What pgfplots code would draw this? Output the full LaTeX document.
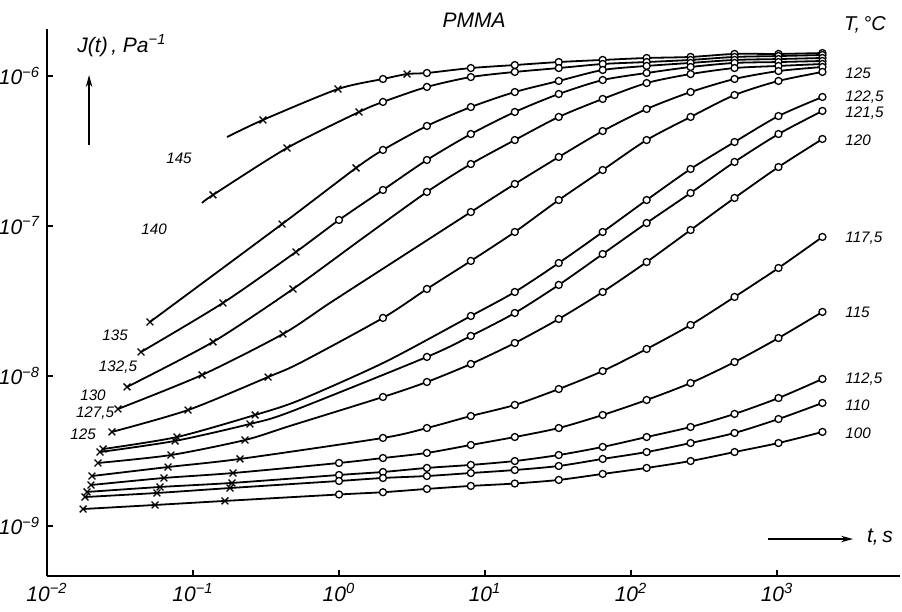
\documentclass[border=0pt]{standalone}
\usepackage{fontspec}
\setmainfont{Liberation Sans}
\usepackage{pgfplots}
\pgfplotsset{compat=1.18}
\usetikzlibrary{arrows.meta}

% curves are drawn in log10 units: x = log10(t/s), y = log10(J/Pa^-1)
\pgfplotsset{
  crv/.style={black, line width=0.9pt, smooth, tension=0.45,
    scatter, scatter src=explicit symbolic,
    scatter/classes={
      x={mark=x, mark size=2.4pt, draw=black, line width=0.65pt},
      o={mark=*, mark size=1.75pt, draw=black, fill=white, line width=0.65pt},
      n={mark=*, mark size=0pt, draw=black}}},
}
\tikzset{lbl/.style={font=\itshape\fontsize{7.6}{8}\selectfont, inner sep=0pt}}

\begin{document}
\begin{tikzpicture}
\begin{axis}[
  scale only axis, width=426.3pt, height=273.2pt,
  xmin=-2, xmax=3.84, ymin=-9.333, ymax=-5.69,
  axis lines=left,
  axis line style={-, line width=1.3pt},
  every outer x axis line/.append style={-},
  every outer y axis line/.append style={-},
  clip=false,
  xtick={-2,-1,0,1,2,3}, ytick={-9,-8,-7,-6},
  xticklabels={10\textsuperscript{−2},10\textsuperscript{−1},10\textsuperscript{0},10\textsuperscript{1},10\textsuperscript{2},10\textsuperscript{3}},
  yticklabels={10\textsuperscript{−9},10\textsuperscript{−8},10\textsuperscript{−7},10\textsuperscript{−6}},
  tick align=inside, major tick length=3pt,
  tick style={black, line width=0.8pt},
  ticklabel style={font=\itshape\fontsize{10.5}{12}\selectfont},
]

% 145
\addplot[crv] coordinates {
(-0.767,-6.407)[n] (-0.521,-6.293)[x] (-0.007,-6.087)[x] (0.301,-6.020)[o]
(0.466,-5.987)[x] (0.602,-5.980)[o] (0.903,-5.947)[o] (1.204,-5.927)[o]
(1.505,-5.907)[o] (1.806,-5.893)[o] (2.107,-5.880)[o] (2.408,-5.873)[o]
(2.709,-5.853)[o] (3.010,-5.853)[o] (3.311,-5.847)[o]};
% 140
\addplot[crv] coordinates {
(-0.938,-6.847)[n] (-0.863,-6.793)[x] (-0.356,-6.480)[x] (0.137,-6.240)[x]
(0.301,-6.173)[o] (0.602,-6.073)[o] (0.903,-6.007)[o] (1.204,-5.973)[o]
(1.505,-5.947)[o] (1.806,-5.920)[o] (2.107,-5.907)[o] (2.408,-5.893)[o]
(2.709,-5.873)[o] (3.010,-5.867)[o] (3.311,-5.860)[o]};
% 135
\addplot[crv] coordinates {
(-1.295,-7.640)[x] (-0.390,-6.987)[x] (0.117,-6.613)[x] (0.301,-6.493)[o]
(0.602,-6.333)[o] (0.903,-6.207)[o] (1.204,-6.107)[o] (1.505,-6.033)[o]
(1.806,-5.960)[o] (2.107,-5.933)[o] (2.408,-5.913)[o] (2.709,-5.893)[o]
(3.010,-5.887)[o] (3.311,-5.880)[o]};
% 132,5
\addplot[crv] coordinates {
(-1.356,-7.840)[x] (-0.795,-7.513)[x] (-0.295,-7.173)[x] (0,-6.960)[o]
(0.301,-6.760)[o] (0.602,-6.560)[o] (0.903,-6.387)[o] (1.204,-6.240)[o]
(1.505,-6.120)[o] (1.806,-6.027)[o] (2.107,-5.980)[o] (2.408,-5.940)[o]
(2.709,-5.913)[o] (3.010,-5.907)[o] (3.311,-5.900)[o]};
% 130
\addplot[crv] coordinates {
(-1.452,-8.073)[x] (-0.863,-7.773)[x] (-0.315,-7.420)[x] (0.150,-7.090)[n]
(0.602,-6.773)[o] (0.903,-6.587)[o] (1.204,-6.427)[o] (1.505,-6.273)[o]
(1.806,-6.153)[o] (2.107,-6.047)[o] (2.408,-5.987)[o] (2.709,-5.947)[o]
(3.010,-5.933)[o] (3.311,-5.920)[o]};
% 127,5
\addplot[crv] coordinates {
(-1.514,-8.220)[x] (-0.938,-7.993)[x] (-0.384,-7.720)[x] (-0.062,-7.513)[n]
(0.420,-7.210)[n] (0.903,-6.907)[o] (1.204,-6.720)[o] (1.505,-6.540)[o]
(1.806,-6.367)[o] (2.107,-6.220)[o] (2.408,-6.107)[o] (2.709,-6.020)[o]
(3.010,-5.967)[o] (3.311,-5.940)[o]};
% 125
\addplot[crv] coordinates {
(-1.555,-8.373)[x] (-1.034,-8.227)[x] (-0.486,-8.007)[x] (-0.267,-7.913)[n]
(0.301,-7.613)[o] (0.602,-7.420)[o] (0.903,-7.233)[o] (1.204,-7.040)[o]
(1.505,-6.827)[o] (1.806,-6.627)[o] (2.107,-6.427)[o] (2.408,-6.273)[o]
(2.709,-6.127)[o] (3.010,-6.033)[o] (3.311,-5.973)[o]};
% 122,5
\addplot[crv] coordinates {
(-1.616,-8.487)[x] (-1.110,-8.407)[x] (-0.575,-8.260)[x] (-0.267,-8.160)[n]
(0.315,-7.907)[n] (0.903,-7.600)[o] (1.204,-7.440)[o] (1.505,-7.247)[o]
(1.806,-7.040)[o] (2.107,-6.827)[o] (2.408,-6.620)[o] (2.709,-6.440)[o]
(3.010,-6.267)[o] (3.311,-6.140)[o]};
% 121,5
\addplot[crv] coordinates {
(-1.637,-8.507)[x] (-1.123,-8.433)[x] (-0.610,-8.320)[x] (-0.336,-8.240)[n]
(0.602,-7.873)[o] (0.903,-7.733)[o] (1.204,-7.580)[o] (1.505,-7.393)[o]
(1.806,-7.187)[o] (2.107,-6.980)[o] (2.408,-6.780)[o] (2.709,-6.573)[o]
(3.010,-6.387)[o] (3.311,-6.233)[o]};
% 120
\addplot[crv] coordinates {
(-1.651,-8.580)[x] (-1.151,-8.527)[x] (-0.644,-8.427)[x] (-0.336,-8.333)[n]
(0.301,-8.140)[o] (0.602,-8.040)[o] (0.903,-7.920)[o] (1.204,-7.780)[o]
(1.505,-7.620)[o] (1.806,-7.440)[o] (2.107,-7.240)[o] (2.408,-7.027)[o]
(2.709,-6.813)[o] (3.010,-6.607)[o] (3.311,-6.420)[o]};
% 117,5
\addplot[crv] coordinates {
(-1.692,-8.667)[x] (-1.171,-8.607)[x] (-0.678,-8.553)[x] (0.301,-8.413)[o]
(0.602,-8.347)[o] (0.903,-8.267)[o] (1.204,-8.193)[o] (1.505,-8.087)[o]
(1.806,-7.967)[o] (2.107,-7.820)[o] (2.408,-7.660)[o] (2.709,-7.473)[o]
(3.010,-7.280)[o] (3.311,-7.073)[o]};
% 115
\addplot[crv] coordinates {
(-1.699,-8.727)[x] (-1.199,-8.680)[x] (-0.726,-8.647)[x] (0,-8.580)[o]
(0.301,-8.547)[o] (0.602,-8.513)[o] (0.903,-8.460)[o] (1.204,-8.407)[o]
(1.505,-8.347)[o] (1.806,-8.260)[o] (2.107,-8.160)[o] (2.408,-8.047)[o]
(2.709,-7.907)[o] (3.010,-7.747)[o] (3.311,-7.573)[o]};
% 112,5
\addplot[crv] coordinates {
(-1.726,-8.773)[x] (-1.226,-8.740)[x] (-0.733,-8.713)[x] (0,-8.660)[o]
(0.301,-8.640)[o] (0.602,-8.613)[o] (0.903,-8.593)[o] (1.204,-8.567)[o]
(1.505,-8.527)[o] (1.806,-8.473)[o] (2.107,-8.407)[o] (2.408,-8.340)[o]
(2.709,-8.253)[o] (3.010,-8.147)[o] (3.311,-8.020)[o]};
% 110
\addplot[crv] coordinates {
(-1.740,-8.807)[x] (-1.247,-8.780)[x] (-0.747,-8.747)[x] (0,-8.700)[o]
(0.301,-8.680)[o] (0.602,-8.667)[o] (0.903,-8.647)[o] (1.204,-8.627)[o]
(1.505,-8.600)[o] (1.806,-8.553)[o] (2.107,-8.507)[o] (2.408,-8.447)[o]
(2.709,-8.380)[o] (3.010,-8.287)[o] (3.311,-8.180)[o]};
% 100
\addplot[crv] coordinates {
(-1.753,-8.887)[x] (-1.260,-8.860)[x] (-0.781,-8.833)[x] (0,-8.790)[o]
(0.301,-8.775)[o] (0.602,-8.753)[o] (0.903,-8.733)[o] (1.204,-8.717)[o]
(1.505,-8.693)[o] (1.806,-8.653)[o] (2.107,-8.613)[o] (2.408,-8.567)[o]
(2.709,-8.507)[o] (3.010,-8.447)[o] (3.311,-8.373)[o]};

% temperature labels, left side
\node[lbl] at (axis cs:-1.096,-6.547) {145};
\node[lbl] at (axis cs:-1.267,-7.020) {140};
\node[lbl] at (axis cs:-1.534,-7.727) {135};
\node[lbl] at (axis cs:-1.514,-7.940) {132,5};
\node[lbl] at (axis cs:-1.685,-8.127) {130};
\node[lbl] at (axis cs:-1.671,-8.247) {127,5};
\node[lbl] at (axis cs:-1.753,-8.387) {125};
% right side
\node[lbl, anchor=west] at (axis cs:3.466,-5.980) {125};
\node[lbl, anchor=west] at (axis cs:3.466,-6.140) {122,5};
\node[lbl, anchor=west] at (axis cs:3.466,-6.247) {121,5};
\node[lbl, anchor=west] at (axis cs:3.466,-6.427) {120};
\node[lbl, anchor=west] at (axis cs:3.466,-7.080) {117,5};
\node[lbl, anchor=west] at (axis cs:3.466,-7.573) {115};
\node[lbl, anchor=west] at (axis cs:3.466,-8.020) {112,5};
\node[lbl, anchor=west] at (axis cs:3.466,-8.193) {110};
\node[lbl, anchor=west] at (axis cs:3.466,-8.380) {100};

\node[font=\itshape\fontsize{10}{11}\selectfont] at (axis cs:3.603,-5.660) {T,\,°C};
\node[font=\itshape\fontsize{10.5}{12}\selectfont] at (axis cs:0.925,-5.627) {PMMA};
\node[font=\itshape\fontsize{10.5}{12}\selectfont, anchor=west, inner sep=0pt] at (axis cs:-1.794,-5.800) {J(t)\,,\ Pa\textsuperscript{−1}};
\draw[line width=0.9pt, -{Stealth[length=6pt,width=3.2pt]}] (axis cs:-1.712,-6.460) -- (axis cs:-1.712,-5.993);
\draw[line width=0.9pt, -{Stealth[length=6pt,width=3.2pt]}] (axis cs:2.938,-9.087) -- (axis cs:3.521,-9.087);
\node[font=\itshape\fontsize{10.5}{12}\selectfont] at (axis cs:3.705,-9.073) {t,\,s};

\coordinate (BL) at (axis cs:-2.322,-9.573);
\coordinate (TR) at (axis cs:3.856,-5.4933);
\end{axis}
\pgfresetboundingbox
\useasboundingbox (BL) rectangle (TR);
\end{tikzpicture}
\end{document}
